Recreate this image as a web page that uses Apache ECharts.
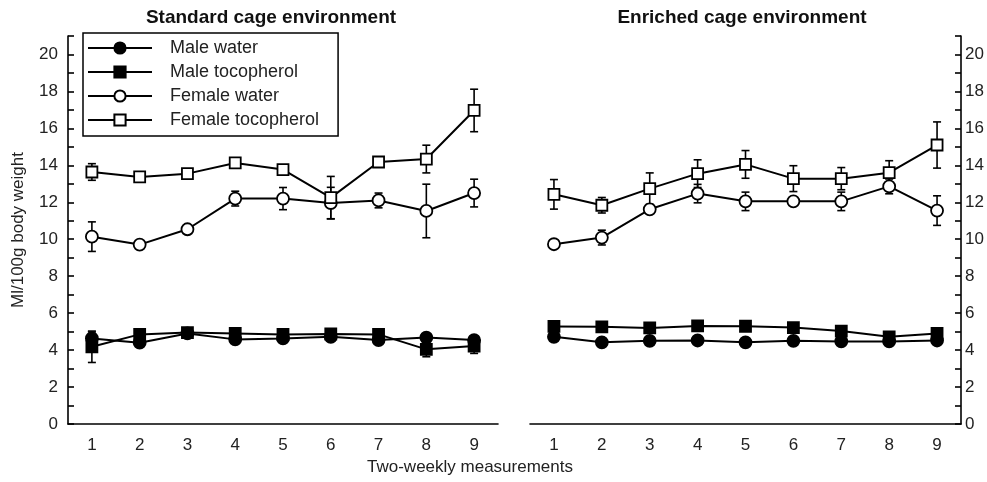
<!DOCTYPE html>
<html>
<head>
<meta charset="utf-8">
<script src="https://cdn.jsdelivr.net/npm/echarts@6/dist/echarts.min.js"></script>
<style>
html,body{margin:0;padding:0;background:#fff;}
#c{width:987px;height:482px;}
</style>
</head>
<body>
<div id="c"></div>
<script>
// ---- data ----
const categories = ['1','2','3','4','5','6','7','8','9'];
const seriesNames = ['Male water','Male tocopherol','Female water','Female tocopherol'];

// Standard cage environment
const stdMaleWater      = [4.63, 4.40, 4.90, 4.58, 4.63, 4.72, 4.54, 4.68, 4.54];
const stdMaleWaterErr   = [0.35, 0.15, 0.15, 0.15, 0.15, 0.15, 0.15, 0.15, 0.15];
const stdMaleToco       = [4.18, 4.85, 4.95, 4.90, 4.85, 4.87, 4.85, 4.04, 4.22];
const stdMaleTocoErr    = [0.85, 0.20, 0.15, 0.15, 0.15, 0.15, 0.15, 0.40, 0.40];
const stdFemaleWater    = [10.14, 9.71, 10.54, 12.20, 12.20, 11.96, 12.10, 11.53, 12.50];
const stdFemaleWaterErr = [0.80, 0.15, 0.15, 0.40, 0.60, 0.85, 0.40, 1.45, 0.75];
const stdFemaleToco     = [13.64, 13.37, 13.55, 14.13, 13.77, 12.25, 14.18, 14.34, 16.97];
const stdFemaleTocoErr  = [0.45, 0.20, 0.20, 0.25, 0.20, 1.15, 0.20, 0.75, 1.15];

// Enriched cage environment
const enrMaleWater      = [4.72, 4.42, 4.50, 4.52, 4.42, 4.50, 4.47, 4.47, 4.52];
const enrMaleWaterErr   = [0.15, 0.15, 0.15, 0.15, 0.15, 0.15, 0.15, 0.15, 0.15];
const enrMaleToco       = [5.28, 5.26, 5.20, 5.31, 5.29, 5.22, 5.03, 4.72, 4.90];
const enrMaleTocoErr    = [0.15, 0.15, 0.15, 0.15, 0.15, 0.15, 0.15, 0.15, 0.15];
const enrFemaleWater    = [9.73, 10.09, 11.62, 12.47, 12.05, 12.05, 12.05, 12.86, 11.55];
const enrFemaleWaterErr = [0.20, 0.40, 0.20, 0.50, 0.50, 0.20, 0.50, 0.40, 0.80];
const enrFemaleToco     = [12.43, 11.84, 12.74, 13.55, 14.05, 13.28, 13.28, 13.60, 15.10];
const enrFemaleTocoErr  = [0.80, 0.42, 0.85, 0.75, 0.75, 0.70, 0.60, 0.65, 1.25];

// ---- chart ----
const FONT = "'Liberation Sans', Arial, sans-serif";
const chart = echarts.init(document.getElementById('c'), null, {renderer:'canvas'});

const styles = [
  {symbol:'circle', size:12, fill:'#000'},
  {symbol:'rect', size:11, fill:'#000'},
  {symbol:'circle', size:12, fill:'#fff'},
  {symbol:'rect', size:11, fill:'#fff'}
];

function errRender(params, api){
  const x = api.value(0);
  const top = api.coord([x, api.value(2)]);
  const bot = api.coord([x, api.value(1)]);
  const w = 4;
  const st = {stroke:'#000', lineWidth:1.6};
  return {type:'group', children:[
    {type:'line', shape:{x1:top[0], y1:top[1], x2:bot[0], y2:bot[1]}, style:st},
    {type:'line', shape:{x1:top[0]-w, y1:top[1], x2:top[0]+w, y2:top[1]}, style:st},
    {type:'line', shape:{x1:bot[0]-w, y1:bot[1], x2:bot[0]+w, y2:bot[1]}, style:st}
  ]};
}

function addPanel(series, gi, vals, errs){
  vals.forEach((v, k) => {
    series.push({
      type:'custom', name:'err'+gi+'_'+k, xAxisIndex:gi, yAxisIndex:gi,
      renderItem: errRender, z:1, silent:true,
      encode:{x:0, y:[1,2]},
      data: v.map((d,i) => [i, d - errs[k][i], d + errs[k][i]])
    });
  });
  vals.forEach((v, k) => {
    const s = styles[k];
    series.push({
      type:'line', name: seriesNames[k], xAxisIndex:gi, yAxisIndex:gi,
      data: v, z:2 + k,
      symbol: s.symbol, symbolSize: s.size, showSymbol:true,
      lineStyle:{color:'#000', width:2},
      itemStyle:{color: s.fill, borderColor:'#000', borderWidth:1.8},
      emphasis:{disabled:true}, animation:false
    });
  });
}

const series = [];
addPanel(series, 0, [stdMaleWater, stdMaleToco, stdFemaleWater, stdFemaleToco],
  [stdMaleWaterErr, stdMaleTocoErr, stdFemaleWaterErr, stdFemaleTocoErr]);
addPanel(series, 1, [enrMaleWater, enrMaleToco, enrFemaleWater, enrFemaleToco],
  [enrMaleWaterErr, enrMaleTocoErr, enrFemaleWaterErr, enrFemaleTocoErr]);

function xAxis(gi){
  return {
    type:'category', gridIndex:gi, data:categories, boundaryGap:true,
    axisLine:{lineStyle:{color:'#000', width:1.6}},
    axisTick:{alignWithLabel:true, length:7, lineStyle:{color:'#000', width:1.6}},
    axisLabel:{color:'#222', fontSize:17, fontFamily:FONT, margin:13},
    splitLine:{show:false}
  };
}
function yAxis(gi, pos){
  return {
    type:'value', gridIndex:gi, position:pos, min:0, max:21, interval:1,
    axisLine:{show:true, lineStyle:{color:'#000', width:1.6}},
    axisTick:{show:true, inside:true, length:6, lineStyle:{color:'#000', width:1.6}},
    axisLabel:{color:'#222', fontSize:17, fontFamily:FONT, margin: pos==='left' ? 10 : 4,
      formatter: v => (v % 2 === 0 ? String(v) : '')},
    splitLine:{show:false}
  };
}

chart.setOption({
  animation:false,
  backgroundColor:'#fff',
  grid:[
    {left:68, top:36, width:430, height:388},
    {left:530, top:36, width:431, height:388}
  ],
  xAxis:[xAxis(0), xAxis(1)],
  yAxis:[yAxis(0,'left'), yAxis(1,'right')],
  legend:{
    data: seriesNames, orient:'vertical', left:83, top:33,
    borderColor:'#000', borderWidth:1.5, borderRadius:0,
    padding:[6, 19, 7, 4], itemGap:6, itemWidth:64, itemHeight:14,
    textStyle:{color:'#222', fontSize:18, fontFamily:FONT, lineHeight:17, padding:[0,0,0,13]},
    selectedMode:false
  },
  graphic:[
    {type:'text', x:271, y:18, style:{text:'Standard cage environment', font:"bold 19px 'Liberation Sans', Arial, sans-serif", fill:'#111', align:'center', verticalAlign:'middle'}},
    {type:'text', x:742, y:18, style:{text:'Enriched cage environment', font:"bold 19px 'Liberation Sans', Arial, sans-serif", fill:'#111', align:'center', verticalAlign:'middle'}},
    {type:'text', x:470, y:467, style:{text:'Two-weekly measurements', font:"17px 'Liberation Sans', Arial, sans-serif", fill:'#222', align:'center', verticalAlign:'middle'}},
    {type:'text', x:18, y:230, rotation:Math.PI/2, style:{text:'Ml/100g body weight', font:"17px 'Liberation Sans', Arial, sans-serif", fill:'#222', align:'center', verticalAlign:'middle'}}
  ],
  series: series
});
</script>
</body>
</html>
